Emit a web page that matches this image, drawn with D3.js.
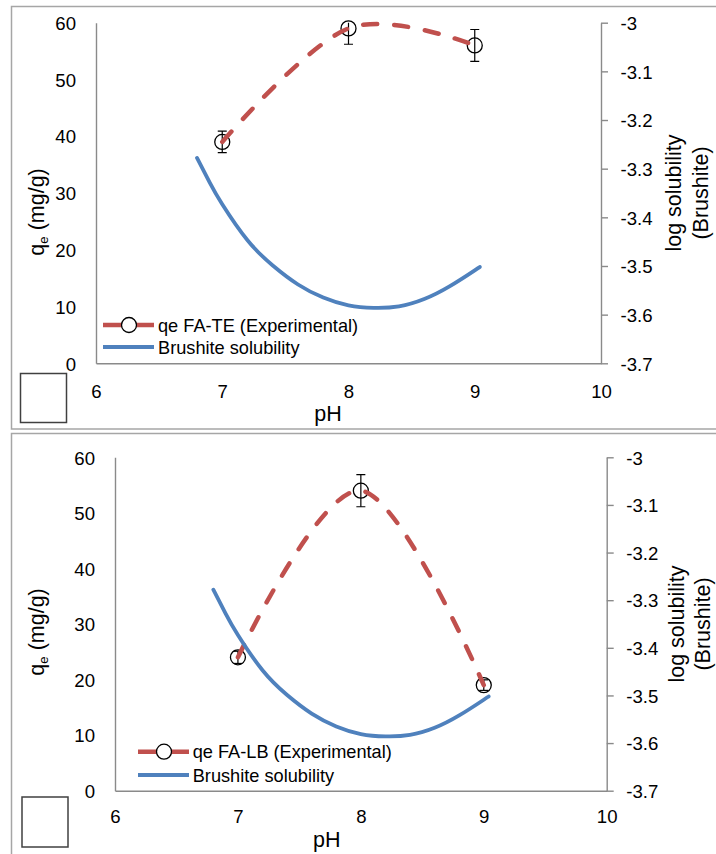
<!DOCTYPE html>
<html>
<head>
<meta charset="utf-8">
<script src="https://cdn.jsdelivr.net/npm/d3@7"></script>
<style>
  html, body { margin: 0; padding: 0; background: #fff; }
  svg { display: block; font-family: "Liberation Sans", Arial, sans-serif; }
</style>
</head>
<body>
<svg id="chart" width="716" height="854"></svg>
<script>
// pH values of the adsorption experiments
const pH = [7, 8, 9];

// Equilibrium adsorption capacity (mg/g) and error bars, FA-TE
const qeTE = [39, 59, 56];
const qeTEerr = [1.9, 2.8, 2.8];

// Equilibrium adsorption capacity (mg/g) and error bars, FA-LB
const qeLB = [24, 54, 19];
const qeLBerr = [1.1, 2.9, 0.95];

// Brushite solubility curve (log solubility vs pH)
const solPH  = [6.8, 6.9, 7.0, 7.2, 7.4, 7.6, 7.8, 8.0, 8.2, 8.4, 8.6, 8.8, 9.0, 9.04];
const logSol = [-3.278, -3.328, -3.373, -3.447, -3.499, -3.538, -3.565, -3.581, -3.586, -3.583, -3.568, -3.542, -3.509, -3.502];

// Tick values and labels
const xTicks = [6, 7, 8, 9, 10];
const qeTicks = [0, 10, 20, 30, 40, 50, 60];
const solTicks = [-3, -3.1, -3.2, -3.3, -3.4, -3.5, -3.6, -3.7];
const solTickLabels = ["-3", "-3.1", "-3.2", "-3.3", "-3.4", "-3.5", "-3.6", "-3.7"];

// Legend texts
const legendTE = ["qe FA-TE (Experimental)", "Brushite solubility"];
const legendLB = ["qe FA-LB (Experimental)", "Brushite solubility"];

const RED = "#C0504D", BLUE = "#4F81BD", AXIS = "#8a8a8a";
const TICK_FS = 18.6, TITLE_FS = 21.5, LEGEND_FS = 18.2;

const svg = d3.select("#chart");

const panels = [
  {
    id: "te", qe: qeTE, err: qeTEerr, legend: legendTE,
    frame: { x: 11.5, y: 6.5, w: 740, h: 422.5 },
    box: { x: 20.5, y: 373.5, w: 46, h: 49 },
    plot: { left: 96, right: 601, top: 22.7, bottom: 363.3 },
    xPad: 21.8,
    legendLineX: 103, legendTextX: 158, legendY: [325, 347],
    qeTitle: { x: 44, y: 212 },
    solTitle: { dx: 79.5, gap: 27 },
    xTitle: { x: 328, y: 421 }
  },
  {
    id: "lb", qe: qeLB, err: qeLBerr, legend: legendLB,
    frame: { x: 11.5, y: 433.5, w: 740, h: 440 },
    box: { x: 22, y: 797, w: 46, h: 50 },
    plot: { left: 115, right: 606.7, top: 457.3, bottom: 790.7 },
    xPad: 19.5,
    legendLineX: 138, legendTextX: 192.7, legendY: [751.7, 775],
    qeTitle: { x: 44, y: 632 },
    solTitle: { dx: 77, gap: 26 },
    xTitle: { x: 326.7, y: 846.7 }
  }
];

panels.forEach(p => {
  const g = svg.append("g").attr("class", "panel-" + p.id);
  const P = p.plot;

  // outer frame and the small empty square
  g.append("rect")
    .attr("x", p.frame.x).attr("y", p.frame.y)
    .attr("width", p.frame.w).attr("height", p.frame.h)
    .attr("fill", "none").attr("stroke", "#a6a6a6").attr("stroke-width", 1.5);
  g.append("rect")
    .attr("x", p.box.x).attr("y", p.box.y)
    .attr("width", p.box.w).attr("height", p.box.h)
    .attr("fill", "#fff").attr("stroke", "#404040").attr("stroke-width", 1.5);

  const x = d3.scaleLinear().domain([6, 10]).range([P.left, P.right]);
  const yL = d3.scaleLinear().domain([0, 60]).range([P.bottom, P.top]);
  const yR = d3.scaleLinear().domain([-3.7, -3]).range([P.bottom, P.top]);

  // axes
  const styleAxis = sel => {
    sel.select(".domain").attr("stroke", AXIS).attr("stroke-width", 1.4);
    sel.selectAll(".tick line").attr("stroke", AXIS).attr("stroke-width", 1.4);
    sel.selectAll("text").attr("fill", "#000").attr("font-size", TICK_FS)
      .attr("font-family", "Liberation Sans, Arial, sans-serif");
  };

  g.append("g")
    .attr("transform", `translate(0,${P.bottom})`)
    .call(d3.axisBottom(x).tickValues(xTicks).tickFormat(d3.format("d"))
      .tickSize(0).tickPadding(p.xPad))
    .call(styleAxis);

  g.append("g")
    .attr("transform", `translate(${P.left},0)`)
    .call(d3.axisLeft(yL).tickValues(qeTicks).tickFormat(d3.format("d"))
      .tickSize(0).tickPadding(20))
    .call(styleAxis)
    .call(s => s.selectAll("text").attr("dy", "0.36em"));

  g.append("g")
    .attr("transform", `translate(${P.right},0)`)
    .call(d3.axisRight(yR).tickValues(solTicks)
      .tickFormat((d, i) => solTickLabels[i])
      .tickSizeInner(7).tickSizeOuter(0).tickPadding(12.5))
    .call(styleAxis)
    .call(s => s.selectAll("text").attr("dy", "0.36em"));

  // axis titles
  const qt = g.append("text")
    .attr("transform", `translate(${p.qeTitle.x},${p.qeTitle.y}) rotate(-90)`)
    .attr("text-anchor", "middle").attr("font-size", TITLE_FS).attr("fill", "#000");
  qt.append("tspan").text("q");
  qt.append("tspan").text("e").attr("font-size", TITLE_FS * 0.62).attr("dy", "0.3em");
  qt.append("tspan").text(" (mg/g)").attr("dy", "-0.19em");

  const rt = g.append("text")
    .attr("transform", `translate(${P.right + p.solTitle.dx},${(P.top + P.bottom) / 2}) rotate(-90)`)
    .attr("text-anchor", "middle").attr("font-size", TITLE_FS).attr("fill", "#000");
  rt.append("tspan").attr("x", 0).attr("dy", 0).text("log solubility");
  rt.append("tspan").attr("x", 0).attr("dy", p.solTitle.gap).text("(Brushite)");

  g.append("text")
    .attr("x", p.xTitle.x).attr("y", p.xTitle.y)
    .attr("text-anchor", "middle").attr("font-size", TITLE_FS).attr("fill", "#000")
    .text("pH");

  // error bars, clipped to the plot area
  const clipId = "clip-" + p.id;
  g.append("clipPath").attr("id", clipId)
    .append("rect").attr("x", P.left).attr("y", P.top)
    .attr("width", P.right - P.left).attr("height", P.bottom - P.top);

  const eb = g.append("g").attr("clip-path", `url(#${clipId})`)
    .attr("stroke", "#000").attr("stroke-width", 1.2);
  pH.forEach((v, i) => {
    const cx = x(v), hi = yL(p.qe[i] + p.err[i]), lo = yL(p.qe[i] - p.err[i]);
    eb.append("line").attr("x1", cx).attr("x2", cx).attr("y1", hi).attr("y2", lo);
    eb.append("line").attr("x1", cx - 4.5).attr("x2", cx + 4.5).attr("y1", hi).attr("y2", hi);
    eb.append("line").attr("x1", cx - 4.5).attr("x2", cx + 4.5).attr("y1", lo).attr("y2", lo);
  });

  // markers
  g.append("g").selectAll("circle")
    .data(pH).join("circle")
    .attr("cx", d => x(d)).attr("cy", (d, i) => yL(p.qe[i]))
    .attr("r", 7.5).attr("fill", "none")
    .attr("stroke", "#000").attr("stroke-width", 1.3);

  // smoothed experimental curve
  const qLine = d3.line().x(d => x(d[0])).y(d => yL(d[1])).curve(d3.curveCardinal.tension(0));
  g.append("path")
    .datum(pH.map((v, i) => [v, p.qe[i]]))
    .attr("d", qLine)
    .attr("fill", "none").attr("stroke", RED).attr("stroke-width", 4.5)
    .attr("stroke-linecap", "round").attr("stroke-dasharray", "14,17");

  // brushite solubility curve (secondary axis)
  const sLine = d3.line().x(d => x(d[0])).y(d => yR(d[1])).curve(d3.curveNatural);
  g.append("path")
    .datum(solPH.map((v, i) => [v, logSol[i]]))
    .attr("d", sLine)
    .attr("fill", "none").attr("stroke", BLUE).attr("stroke-width", 3.8)
    .attr("stroke-linecap", "round");

  // legend
  const lg = g.append("g");
  const lx = p.legendLineX, ly = p.legendY;
  lg.append("line").attr("x1", lx).attr("x2", lx + 51).attr("y1", ly[0]).attr("y2", ly[0])
    .attr("stroke", RED).attr("stroke-width", 4.5);
  lg.append("circle").attr("cx", lx + 26).attr("cy", ly[0]).attr("r", 7.5)
    .attr("fill", "#fff").attr("stroke", "#000").attr("stroke-width", 1.3);
  lg.append("line").attr("x1", lx).attr("x2", lx + 51).attr("y1", ly[1]).attr("y2", ly[1])
    .attr("stroke", BLUE).attr("stroke-width", 3.8);
  p.legend.forEach((t, i) => {
    lg.append("text").attr("x", p.legendTextX).attr("y", ly[i])
      .attr("dy", "0.36em").attr("font-size", LEGEND_FS).attr("fill", "#000").text(t);
  });
});
</script>
</body>
</html>
